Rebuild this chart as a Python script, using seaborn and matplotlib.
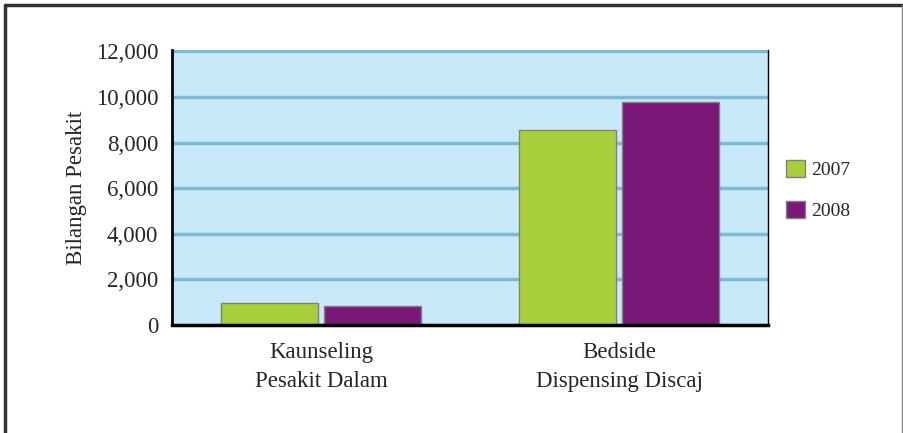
import pandas as pd
import numpy as np
import seaborn as sns
import matplotlib.pyplot as plt
from matplotlib.lines import Line2D
from matplotlib.ticker import FuncFormatter

# data
kategori = ['Kaunseling\nPesakit Dalam', 'Bedside\nDispensing Discaj']
tahun = ['2007', '2008']
nilai_2007 = [950, 8550]
nilai_2008 = [850, 9800]

df = pd.DataFrame({
    'kategori': kategori * 2,
    'tahun': [tahun[0]] * 2 + [tahun[1]] * 2,
    'bilangan': nilai_2007 + nilai_2008,
})

sns.set_theme(style="white")
plt.rcParams['font.family'] = ['Liberation Serif', 'DejaVu Serif']

fig = plt.figure(figsize=(9.04, 4.33), dpi=100)
ax = fig.add_axes([172 / 904, 1 - 325 / 433, (768 - 172) / 904, 275 / 433])
ax.set_facecolor('#c8e9f9')

sns.barplot(data=df, x='kategori', y='bilangan', hue='tahun', order=kategori,
            hue_order=tahun, palette=['#a8cf3a', '#7a1877'], saturation=1,
            width=0.69, gap=0.05, edgecolor='#7f7f7f', linewidth=1, ax=ax)

ax.set_ylim(0, 12060)
ax.set_xlim(-0.5, 1.5)
ax.set_yticks(np.arange(0, 12001, 2000))
ax.yaxis.set_major_formatter(FuncFormatter(lambda v, p: f'{int(v):,}'))
ax.yaxis.grid(True, color='#7cbad8', lw=2.5)
ax.set_axisbelow(True)

ax.set_xlabel('')
ax.set_ylabel('Bilangan Pesakit', fontsize=16.5, labelpad=6)
ax.tick_params(axis='y', length=0, pad=10, labelsize=16.5)
ax.tick_params(axis='x', which='major', length=0, pad=12, labelsize=16.5)
for t in ax.get_xticklabels():
    t.set_linespacing(1.5)
ax.set_xticks([0.5], minor=True)
ax.tick_params(axis='x', which='minor', direction='in', length=7, width=2, color='black')

ax.spines['top'].set_visible(False)
ax.spines['left'].set_linewidth(2)
ax.spines['bottom'].set_linewidth(2.5)
ax.spines['right'].set_linewidth(1)
for s in ['left', 'bottom', 'right']:
    ax.spines[s].set_color('black')

leg = ax.legend(loc='upper left', bbox_to_anchor=(786 / 904, 1 - 160 / 433),
                bbox_transform=fig.transFigure, frameon=False, fontsize=14,
                handlelength=1.0, handleheight=1.0, handletextpad=0.3,
                labelspacing=1.1, borderpad=0, borderaxespad=0)
for h in leg.legend_handles:
    h.set_edgecolor('#7f7f7f')

# outer frame of the figure
fig.add_artist(Line2D([5 / 904, 5 / 904], [0, 1 - 5 / 433], color='#333333', lw=2.5))
fig.add_artist(Line2D([5 / 904, 1], [1 - 5 / 433, 1 - 5 / 433], color='#333333', lw=2.5))
fig.add_artist(Line2D([902.5 / 904, 902.5 / 904], [0, 1 - 5 / 433], color='#888888', lw=1))

fig.savefig('out.png', dpi=100)
